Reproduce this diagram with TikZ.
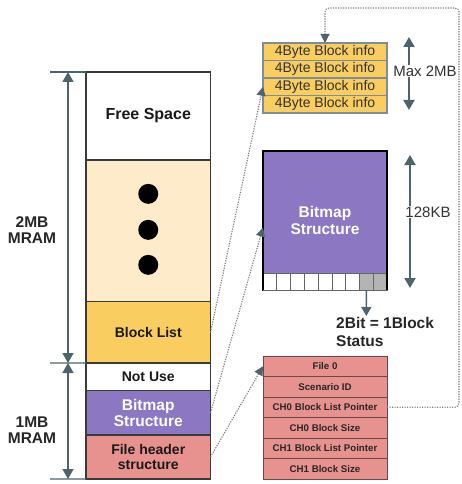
\documentclass[tikz,border=0pt]{standalone}
\usepackage{fontspec}
\setmainfont{Liberation Sans}
\usetikzlibrary{arrows.meta,positioning}

\definecolor{slate}{HTML}{4E636E}
\definecolor{memline}{HTML}{3A3A3A}
\definecolor{cream}{HTML}{FDEBC9}
\definecolor{listyellow}{HTML}{F9CD5F}
\definecolor{bmpurple}{HTML}{8B77C2}
\definecolor{hdrsalmon}{HTML}{E8928F}
\definecolor{infoline}{HTML}{7D8E9A}
\definecolor{rowline}{HTML}{6A4A48}
\definecolor{dotgray}{HTML}{7A7A7A}
\definecolor{cellgray}{HTML}{B4B4B4}

\begin{document}
\begin{tikzpicture}[
  x=1pt, y=-1pt,
  mem/.style={draw=memline, line width=1.1pt, minimum width=124.5pt, inner sep=0pt,
              outer sep=0pt, align=center, text=black!90,
              font=\bfseries\fontsize{14}{16}\selectfont},
  inforow/.style={draw=infoline, line width=1.1pt, fill=listyellow, minimum width=124pt,
                  minimum height=17.5pt, inner sep=0pt, outer sep=0pt, text=black!80,
                  font=\fontsize{14}{16}\selectfont},
  hdrrow/.style={draw=rowline, line width=0.9pt, fill=hdrsalmon, minimum width=124pt,
                 minimum height=20.5pt, inner sep=0pt, outer sep=0pt, text=black!85,
                 font=\bfseries\fontsize{9.7}{11}\selectfont},
  bitcell/.style={draw=black!60, line width=0.8pt, fill=white, minimum width=13.78pt,
                  minimum height=17pt, inner sep=0pt, outer sep=0pt},
  dimarrow/.style={draw=slate, line width=1.7pt,
                   {Triangle[width=11pt,length=10pt]}-{Triangle[width=11pt,length=10pt]}},
  tickline/.style={draw=slate, line width=1.2pt},
  dimlabel/.style={align=center, text=black!85, font=\bfseries\fontsize{15.5}{16}\selectfont},
  sizelabel/.style={fill=white, inner sep=1pt, text=black!80, font=\fontsize{15}{17}\selectfont},
  dotlink/.style={draw=dotgray, line width=1.1pt, dash pattern=on 1.2pt off 1.3pt,
                  -{Triangle[width=9pt,length=9pt,color=slate]}}
]
\useasboundingbox (0,0) rectangle (461,484);

% memory map
\node[mem, minimum height=88pt, font=\bfseries\fontsize{16}{18}\selectfont] (free) at (148.25,116) {Free Space};
\node[mem, fill=cream, minimum height=141.7pt, below=0pt of free] (dots) {};
\node[mem, fill=listyellow, minimum height=61.3pt, below=0pt of dots] (blist) {Block List};
\node[mem, minimum height=27.7pt, below=0pt of blist] (notuse) {Not Use};
\node[mem, fill=bmpurple, text=white, minimum height=44.3pt, below=0pt of notuse,
      font=\bfseries\fontsize{15.5}{16.5}\selectfont] (bmleft) {Bitmap\\Structure};
\node[mem, fill=hdrsalmon, minimum height=44pt, below=0pt of bmleft,
      font=\bfseries\fontsize{14}{15.5}\selectfont] (header) {File header\\structure};
\foreach \d in {37,1,-34}
  \fill ([yshift=\d pt]dots.center) circle (10pt);

% sizes
\coordinate (m2top) at (68,72);
\coordinate (mmid)  at (68,363);
\coordinate (m1bot) at (68,479);
\coordinate (k2top) at (50,72);
\coordinate (kmid)  at (50,363);
\coordinate (k1bot) at (50,479);
\draw[tickline] (k2top) -- (free.north west);
\draw[tickline] (kmid) -- (notuse.north west);
\draw[tickline] (k1bot) -- (header.south west);
\draw[dimarrow] (m2top) -- (mmid);
\draw[dimarrow] (mmid) -- (m1bot);
\node[dimlabel] (lbl2mb) at (32,230) {2MB\\MRAM};
\node[dimlabel] (lbl1mb) at (32,430) {1MB\\MRAM};

% block list entries
\node[inforow] (info1) at (325,51.75) {4Byte Block info};
\node[inforow, below=0pt of info1] (info2) {4Byte Block info};
\node[inforow, below=0pt of info2] (info3) {4Byte Block info};
\node[inforow, below=0pt of info3] (info4) {4Byte Block info};
\coordinate (maxtop) at (409,37);
\coordinate (maxbot) at (409,110);
\draw[dimarrow, line width=2pt] (maxtop) -- (maxbot);
\node[sizelabel] (maxlbl) at (425,71) {Max 2MB};

% bitmap
\node[draw=black, line width=1.6pt, fill=bmpurple, minimum width=124pt, minimum height=139pt,
      inner sep=0pt, outer sep=0pt, align=center, text=white,
      font=\bfseries\fontsize{15.5}{17.5}\selectfont] (bmbig) at (325,220.5) {Bitmap\\Structure};
\foreach \i in {1,...,7}
  \node[bitcell] (cell\i) at ({263+13.78*(\i-0.5)},281.5) {};
\foreach \i in {8,9}
  \node[bitcell, fill=cellgray] (cell\i) at ({263+13.78*(\i-0.5)},281.5) {};
\draw[line width=1.6pt] (bmbig.south west) -- (bmbig.north west) -- (bmbig.north east) -- (bmbig.south east);
\coordinate (kbtop) at (410,155);
\coordinate (kbbot) at (410,288);
\draw[dimarrow, line width=2pt] (kbtop) -- (kbbot);
\node[sizelabel] (kblbl) at (428,212) {128KB};
\coordinate (statpt) at (366.3,316);
\draw[slate, line width=1.4pt, -{Triangle[width=10pt,length=9pt]}] (cell8.south) -- (statpt);
\node[anchor=west, align=left, inner sep=0pt, text=black!85,
      font=\bfseries\fontsize{15.5}{18}\selectfont] (statlbl) at (336,332) {2Bit = 1Block\\Status};

% file header
\node[hdrrow] (file0) at (325,366.25) {File 0};
\node[hdrrow, below=0pt of file0]   (scen)    {Scenario ID};
\node[hdrrow, below=0pt of scen]    (ch0ptr)  {CH0 Block List Pointer};
\node[hdrrow, below=0pt of ch0ptr]  (ch0size) {CH0 Block Size};
\node[hdrrow, below=0pt of ch0size] (ch1ptr)  {CH1 Block List Pointer};
\node[hdrrow, below=0pt of ch1ptr]  (ch1size) {CH1 Block Size};

% links
\coordinate (bend) at (459,8);
\draw[dotlink] (blist.east) -- (info3.west);
\draw[dotlink] (bmleft.east) -- ([yshift=-7pt]bmbig.west);
\draw[dotlink] (header.east) -- (file0.west);
\draw[dotlink, rounded corners=4pt] (ch0ptr.east) -| (bend) -| (info1.north);
\end{tikzpicture}
\end{document}
